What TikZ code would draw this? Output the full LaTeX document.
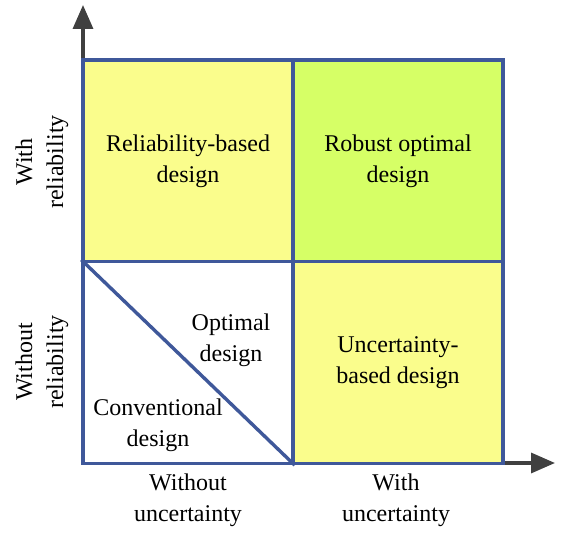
\documentclass[tikz,border=0pt]{standalone}
\usepackage{fontspec}
\setmainfont{Liberation Serif}
\usetikzlibrary{arrows.meta}
\definecolor{cellyellow}{RGB}{250,253,140}
\definecolor{cellgreen}{RGB}{214,255,102}
\definecolor{edgeblue}{RGB}{63,88,154}
\definecolor{axisgray}{RGB}{64,64,64}
\tikzset{
  cell/.style={draw=edgeblue, line width=3.4pt, minimum width=210pt, minimum height=202pt, inner sep=0pt},
  txt/.style={align=center, font=\fontsize{24}{31}\selectfont},
  axis/.style={axisgray, line width=3.4pt, -{Triangle[length=24pt,width=20pt]}}
}
\begin{document}
\begin{tikzpicture}[x=1pt,y=1pt]
    \useasboundingbox (0,0) rectangle (563,533);

    % Axis arrows (behind the cells)
    \coordinate (ytip) at (83,528);
    \coordinate (xtip) at (555,70);
    \coordinate (origin) at (83,70);
    \draw[axis] (origin) -- (ytip);
    \draw[axis] (origin) -- (xtip);

    % Cells
    \node[cell, fill=cellyellow] (rel) at (188,372) {};
    \node[cell, fill=cellgreen] (rob) at (398,372) {};
    \node[cell, fill=white] (conv) at (188,170.5) {};
    \node[cell, fill=cellyellow] (unc) at (398,170.5) {};
    \draw[edgeblue, line width=3.4pt] (conv.north west) -- (conv.south east);

    % Cell texts
    \node[txt] (reltxt) at (rel.center) {Reliability-based\\design};
    \node[txt] (robtxt) at (rob.center) {Robust optimal\\design};
    \node[txt] (unctxt) at (unc.center) {Uncertainty-\\based design};
    \node[txt] (opttxt) at (231,193) {Optimal\\design};
    \node[txt] (convtxt) at (158,108) {Conventional\\design};

    % Axis labels
    \node[txt, rotate=90] (withrel) at (42,371) {With\\reliability};
    \node[txt, rotate=90] (withoutrel) at (42,171) {Without\\reliability};
    \node[txt] (withoutunc) at (188,33) {Without\\uncertainty};
    \node[txt] (withunc) at (396,33) {With\\uncertainty};
\end{tikzpicture}
\end{document}
